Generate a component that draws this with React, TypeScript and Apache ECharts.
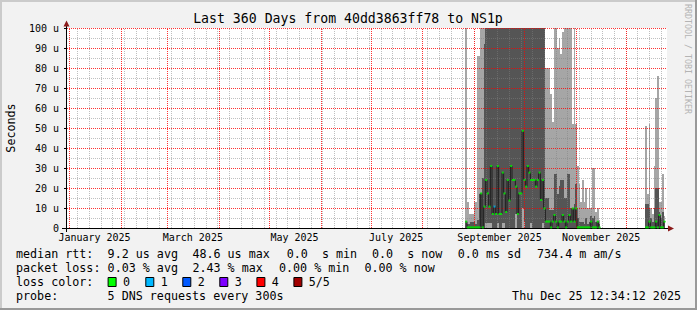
import React, { useEffect, useRef } from "react";
import * as echarts from "echarts";

// ---- time frame ----
const DAYS = 360;
const START = Date.UTC(2024, 11, 30, 12, 34);
const MS_DAY = 86400000;

const titleText = "Last 360 Days from 40dd3863ff78 to NS1p";
const monthLabels = ["January 2025", "March 2025", "May 2025", "July 2025", "September 2025", "November 2025"];
const monthLabelMonths = [0, 2, 4, 6, 8, 10];

// ---- smoke segment A (day index 239 .. 319) ----
const segAStart = 239;
const segAHiOuter = [
  120, 13, 7, 7, 7, 13, 13, 86, 86, 120, 120, 120,
  120, 120, 120, 120, 120, 120, 120, 120, 120, 120, 120, 120, 120, 120, 120, 120, 120, 120,
  120, 120, 120, 120, 120, 120, 120, 120, 120, 120, 120, 120, 120, 120, 120, 120, 120, 120,
  80, 80, 80, 67, 53, 120, 120, 90, 95, 87, 98, 120, 120, 120, 120, 120, 52, 120, 52,
  31, 22, 13, 24, 13, 20, 10, 20, 10, 30, 30, 8, 10, 4,
];
const segAHiInner = [
  3, 2, 2, 3, 3, 3, 2, 4, 17, 17, 25, 92,
  120, 120, 120, 120, 120, 120, 120, 120, 120, 120, 120, 120, 120, 120, 120, 120, 120, 120,
  120, 120, 120, 120, 120, 120, 120, 120, 120, 120, 120, 120, 120, 120, 120, 120, 120, 120,
  15, 15, 9, 9, 9, 27, 27, 17, 21, 24, 24, 15, 15, 27, 27, 10, 10, 12, 22,
  5, 3, 3, 3, 2, 5, 2, 3, 6, 5, 6, 3, 3, 2,
];
const segALoInner = [
  0, 0, 0, 0, 0, 0, 0, 0, 0, 0, 0, 0,
  2.5, 2.5, 2.5, 2.5, 0, 0, 0, 2.5, 0, 0, 2.5, 2.5, 0, 0, 0, 0, 0, 0,
  7, 0, 0, 0, 10, 3, 0, 0, 0, 2.5, 0, 0, 0, 0, 0, 0, 2.5, 0,
  0, 0, 0, 0, 0, 0, 0, 0, 0, 0, 0, 0, 0, 0, 0, 0, 0, 0, 0,
  0, 0, 0, 0, 0, 0, 0, 0, 0, 0, 0, 0, 0, 0,
];
const segAMedian = [
  3.2, 0.3, 0.3, 0.3, 0.3, 0.3, 0.3, 0.3, 0.3, 17.3, 0.3, 10.7,
  24, 17.3, 10.7, 31, 7, 10.7, 7, 31, 7, 7, 27.7, 17.3, 8, 24, 13.7, 31, 24, 24,
  20.7, 7, 17.3, 17.3, 48.6, 24, 20.7, 31, 27.7, 24, 24, 24, 20.7, 24, 27.7, 14, 24, 9.8,
  3.2, 3.2, 3.2, 0.3, 3.2, 6.5, 3.2, 0.3, 3.2, 3.2, 6.5, 3.2, 0.3, 3.2, 6.5, 3.2, 9.8, 3.2, 9.8,
  0.3, 0.3, 0.3, 0.3, 0.3, 0.3, 0.3, 0.3, 3.2, 0.3, 0.3, 0.3, 3.2, 0.3,
];
const segALoss = [
  0, 0, 0, 0, 0, 0, 0, 0, 0, 0, 0, 0,
  0, 0, 0, 0, 0, 1, 0, 0, 0, 0, 0, 0, 0, 0, 0, 0, 0, 0,
  0, 0, 0, 0, 0, 0, 0, 0, 0, 0, 0, 0, 0, 0, 0, 0, 0, 0,
  0, 0, 0, 0, 0, 0, 0, 0, 0, 0, 0, 0, 0, 0, 0, 0, 0, 0, 0,
  0, 0, 0, 0, 0, 0, 0, 0, 0, 0, 0, 0, 0, 0,
];

// ---- smoke segment C (day index 347 .. 358) ----
const segCStart = 347;
const segCHiOuter = [51, 17, 52, 10, 7, 31, 65, 76, 13, 13, 27, 6];
const segCHiInner = [12, 12, 10, 5, 3, 10, 20, 20, 8, 5, 8, 3];
const segCLoInner = [0, 0, 0, 0, 0, 0, 0, 0, 0, 0, 0, 0];
const segCMedian = [0.3, 0.3, 3.2, 0.3, 0.3, 0.3, 3.2, 0.3, 6.5, 0.3, 0.3, 3.2];
const segCLoss = [0, 0, 0, 0, 0, 0, 0, 0, 0, 0, 0, 0];

// ---- legend ----
const lossColors = ["#00ff00", "#00b8ff", "#0059ff", "#7e00ff", "#ff0000", "#a10000"];
const lossLabels = ["0", "1", "2", "3", "4", "5/5"];
const rttRow = ["median rtt:", "9.2 us avg", "48.6 us max", "0.0  s min", "0.0  s now", "0.0 ms sd", "734.4 m am/s"];
const lossRow = ["packet loss:", "0.03 % avg", "2.43 % max", "0.00 % min", "0.00 % now"];
const probeRow = ["probe:", "5 DNS requests every 300s"];
const dateText = "Thu Dec 25 12:34:12 2025";

const MONO = "'DejaVu Sans Mono', monospace";
const LIGHT = "#a6a6a6";
const DARK = "#555555";
const MINOR_COLOR = "rgba(128,128,128,0.5)";
const MAJOR_COLOR = "rgba(255,0,0,0.8)";
const GRID_LEFT = 67;
const GRID_W = 600;

function buildFull(start: number, vals: number[], full: (number | null)[]) {
  vals.forEach((v, i) => {
    full[start + i] = v;
  });
}

function buildOption() {
  const hiOuter: (number | null)[] = new Array(DAYS).fill(null);
  const hiInner: (number | null)[] = new Array(DAYS).fill(null);
  const loInner: (number | null)[] = new Array(DAYS).fill(null);
  const median: (number | null)[] = new Array(DAYS).fill(null);
  const loss: (number | null)[] = new Array(DAYS).fill(null);
  buildFull(segAStart, segAHiOuter, hiOuter);
  buildFull(segAStart, segAHiInner, hiInner);
  buildFull(segAStart, segALoInner, loInner);
  buildFull(segAStart, segAMedian, median);
  buildFull(segAStart, segALoss, loss);
  buildFull(segCStart, segCHiOuter, hiOuter);
  buildFull(segCStart, segCHiInner, hiInner);
  buildFull(segCStart, segCLoInner, loInner);
  buildFull(segCStart, segCMedian, median);
  buildFull(segCStart, segCLoss, loss);

  const smoke: number[][] = [];
  for (let i = 0; i < DAYS; i++) {
    if (hiOuter[i] != null) smoke.push([i, loInner[i] as number, hiInner[i] as number, hiOuter[i] as number]);
  }

  const marks: any[] = [];
  median.forEach((v, i) => {
    if (v != null) marks.push({ value: [i, v], itemStyle: { color: lossColors[loss[i] as number] } });
  });

  const dayOf = (y: number, m: number, d: number) => (Date.UTC(y, m, d) - START) / MS_DAY;
  const monthLines: number[] = [];
  for (let m = 0; m < 12; m++) monthLines.push(dayOf(2025, m, 1));
  const weekLines: number[] = [];
  for (let t = dayOf(2025, 0, 6); t < DAYS; t += 7) weekLines.push(t);
  const labelIdx = monthLabelMonths.map((m) => Math.floor(dayOf(2025, m, 16)));

  // grid rows: [orientation (0 = horizontal, 1 = vertical), value, major (0/1)]
  const gridRows: number[][] = [];
  for (let v = 5; v <= 100; v += 10) gridRows.push([0, v, 0]);
  weekLines.forEach((v) => gridRows.push([1, v, 0]));
  for (let v = 10; v <= 100; v += 10) gridRows.push([0, v, 1]);
  monthLines.forEach((v) => gridRows.push([1, v, 1]));

  const categories = Array.from({ length: DAYS }, (_, i) => String(i));

  const txt = (text: string, x: number, y: number, extra: any = {}) => ({
    type: "text",
    x,
    y,
    style: {
      text,
      fill: "#000",
      fontFamily: MONO,
      fontSize: 11.7,
      align: "left",
      verticalAlign: "middle",
      ...extra,
    },
  });

  const rttX = [16, 107.6, 192.4, 286.7, 372, 457.8, 537];
  const lossX = [16, 107.6, 192.4, 279, 364.4];
  const boxX = [107.6, 145.3, 182.3, 219.3, 256.4, 293.4];

  const graphics: any[] = [
    { type: "rect", shape: { x: 0, y: 0, width: 697, height: 2 }, style: { fill: "#cbcbcb" } },
    { type: "rect", shape: { x: 0, y: 0, width: 2, height: 310 }, style: { fill: "#cbcbcb" } },
    { type: "rect", shape: { x: 0, y: 308, width: 697, height: 2 }, style: { fill: "#999999" } },
    { type: "rect", shape: { x: 695, y: 0, width: 2, height: 310 }, style: { fill: "#999999" } },
    // axes
    { type: "line", shape: { x1: 66.5, y1: 232, x2: 66.5, y2: 24 }, style: { stroke: "#000", lineWidth: 1 } },
    { type: "line", shape: { x1: 62, y1: 228.5, x2: 670, y2: 228.5 }, style: { stroke: "#000", lineWidth: 1 } },
    { type: "polygon", shape: { points: [[63.5, 26.5], [69.5, 26.5], [66.5, 20.5]] }, style: { fill: "#8b1a1a" } },
    { type: "polygon", shape: { points: [[668, 225.5], [668, 231.5], [674, 228.5]] }, style: { fill: "#8b1a1a" } },
    txt(titleText, 348, 18, { align: "center", fontSize: 13.2 }),
    { ...txt("Seconds", 10.5, 128, { align: "center", fontSize: 11.7 }), rotation: Math.PI / 2 },
    {
      ...txt("RRDTOOL / TOBI OETIKER", 687.5, 59, { align: "center", fontSize: 8.3, fill: "#b4b4b4" }),
      rotation: -Math.PI / 2,
    },
  ];
  rttRow.forEach((t, i) => graphics.push(txt(t, rttX[i], 254)));
  lossRow.forEach((t, i) => graphics.push(txt(t, lossX[i], 268)));
  graphics.push(txt("loss color:", 16, 282));
  lossColors.forEach((c, i) => {
    graphics.push({
      type: "rect",
      shape: { x: boxX[i] + 0.5, y: 277.5, width: 8, height: 9 },
      style: { fill: c, stroke: "#000", lineWidth: 1 },
    });
    graphics.push(txt(lossLabels[i], boxX[i] + 15.4, 282));
  });
  graphics.push(txt(probeRow[0], 16, 296));
  graphics.push(txt(probeRow[1], 107.6, 296));
  graphics.push(txt(dateText, 681, 296, { align: "right" }));

  return {
    animation: false,
    backgroundColor: "#f2f2f2",
    grid: {
      left: GRID_LEFT,
      top: 28,
      width: GRID_W,
      height: 200,
      show: true,
      backgroundColor: "#ffffff",
      borderWidth: 0,
    },
    xAxis: [
      {
        type: "category",
        data: categories,
        boundaryGap: true,
        axisLine: { show: false },
        axisTick: { show: false },
        splitLine: { show: false },
        axisLabel: {
          interval: (index: number) => labelIdx.includes(index),
          formatter: (_v: string, index: number) => {
            const k = labelIdx.indexOf(index);
            return k >= 0 ? monthLabels[k] : "";
          },
          fontFamily: MONO,
          fontSize: 10,
          color: "#000",
          margin: 4,
        },
      },
      { type: "value", min: 0, max: DAYS, show: false, splitLine: { show: false } },
    ],
    yAxis: {
      type: "value",
      min: 0,
      max: 100,
      interval: 10,
      axisLine: { show: false },
      axisTick: { show: true, length: 3, lineStyle: { color: "#000" } },
      splitLine: { show: false },
      axisLabel: {
        formatter: (v: number) => (v === 0 ? "0" : `${v} u`),
        fontFamily: MONO,
        fontSize: 10,
        color: "#000",
        margin: 8,
      },
    },
    series: [
      {
        type: "custom",
        name: "smoke",
        xAxisIndex: 0,
        yAxisIndex: 0,
        data: smoke,
        silent: true,
        z: 2,
        renderItem: (_params: any, api: any) => {
          const idx = api.value(0);
          const lo = api.value(1);
          const hi = api.value(2);
          const top = api.value(3);
          const c = api.coord([idx, 0]);
          const w = api.size([1, 0])[0];
          const x0 = Math.round(c[0] - w / 2);
          const x1 = Math.round(c[0] + w / 2);
          const yOf = (v: number) => Math.round(api.coord([idx, Math.min(v, 100)])[1]);
          const children: any[] = [];
          const band = (a: number, b: number, color: string) => {
            if (b > a) {
              const ya = yOf(a);
              const yb = yOf(b);
              if (ya > yb) {
                children.push({
                  type: "rect",
                  shape: { x: x0, y: yb, width: x1 - x0, height: ya - yb },
                  style: { fill: color },
                });
              }
            }
          };
          band(0, lo, LIGHT);
          band(lo, hi, DARK);
          band(hi, top, LIGHT);
          return { type: "group", children };
        },
      },
      {
        type: "custom",
        name: "grid",
        xAxisIndex: 1,
        yAxisIndex: 0,
        data: gridRows,
        silent: true,
        z: 3,
        renderItem: (_params: any, api: any) => {
          const vertical = api.value(0) === 1;
          const v = api.value(1);
          const major = api.value(2) === 1;
          const color = major ? MAJOR_COLOR : MINOR_COLOR;
          const bl = api.coord([0, 0]);
          const tr = api.coord([DAYS, 100]);
          let shape;
          if (vertical) {
            const x = Math.floor(api.coord([v, 0])[0]) + 0.5;
            shape = { x1: x, y1: Math.round(bl[1]), x2: x, y2: Math.round(tr[1]) };
          } else {
            const y = Math.floor(api.coord([0, v])[1]) + 0.5;
            shape = { x1: Math.round(bl[0]), y1: y, x2: Math.round(tr[0]), y2: y };
          }
          return {
            type: "line",
            shape,
            style: { stroke: color, lineWidth: 1, lineDash: [1, 1], fill: null },
          };
        },
      },
      {
        type: "line",
        name: "median",
        xAxisIndex: 0,
        yAxisIndex: 0,
        data: median,
        step: "middle",
        connectNulls: false,
        showSymbol: false,
        symbol: "none",
        lineStyle: { color: "#1e1e1e", width: 1 },
        silent: true,
        z: 4,
      },
      {
        type: "scatter",
        name: "loss",
        xAxisIndex: 0,
        yAxisIndex: 0,
        data: marks,
        symbol: "rect",
        symbolSize: [2, 2],
        silent: true,
        z: 5,
      },
    ],
    graphic: graphics,
  };
}

export default function App() {
  const ref = useRef<HTMLDivElement>(null);
  useEffect(() => {
    if (!ref.current) return;
    const chart = echarts.init(ref.current, null, { renderer: "svg" });
    chart.setOption(buildOption() as any);
    return () => chart.dispose();
  }, []);
  return <div ref={ref} style={{ position: "fixed", left: 0, top: 0, width: 697, height: 310 }} />;
}
